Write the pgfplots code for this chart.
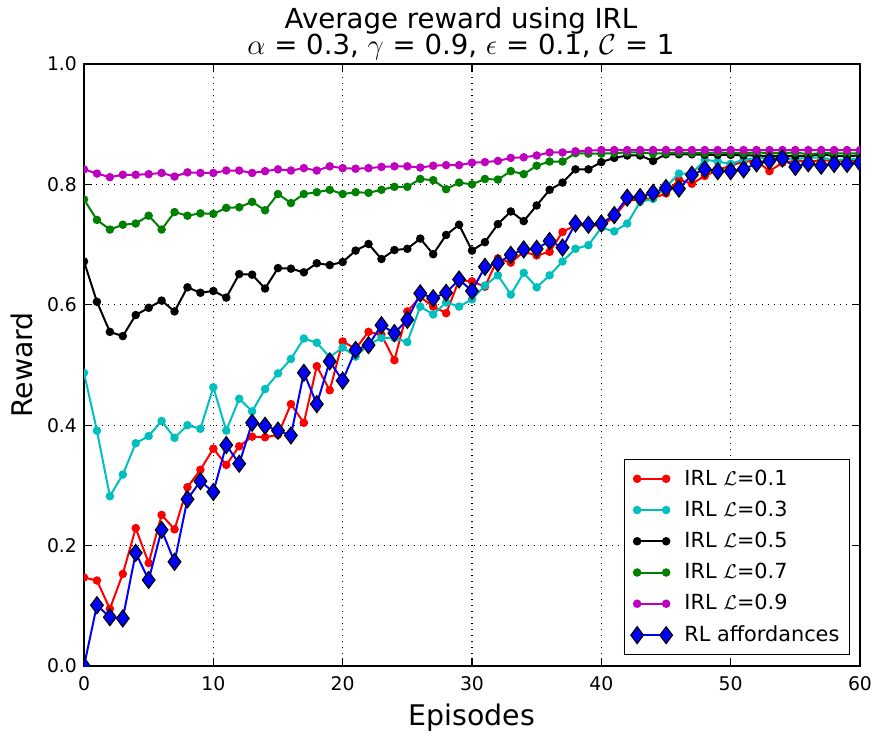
\documentclass[border=0pt]{standalone}
\usepackage{pgfplots}
\usepackage{pgfplotstable}
\pgfplotsset{compat=1.18}
\usepackage{fontspec}
\setmainfont{DejaVu Sans}

\definecolor{mplc}{rgb}{0,0.75,0.75}
\definecolor{mplg}{rgb}{0,0.5,0}
\definecolor{mplm}{rgb}{0.75,0,0.75}

% columns: episode, L=0.1, L=0.3, L=0.5, L=0.7, L=0.9, RL affordances
\pgfplotstableread{
ep  la    lb    lc    ld    le    rl
0   0.147 0.487 0.672 0.775 0.825 0.000
1   0.142 0.391 0.605 0.741 0.818 0.101
2   0.095 0.282 0.555 0.725 0.812 0.081
3   0.153 0.318 0.548 0.733 0.816 0.079
4   0.229 0.370 0.583 0.735 0.816 0.188
5   0.171 0.382 0.595 0.748 0.817 0.143
6   0.251 0.407 0.607 0.725 0.819 0.226
7   0.227 0.379 0.589 0.754 0.813 0.173
8   0.297 0.400 0.629 0.748 0.820 0.277
9   0.326 0.394 0.620 0.752 0.819 0.307
10  0.361 0.463 0.623 0.751 0.819 0.289
11  0.334 0.391 0.612 0.761 0.823 0.367
12  0.365 0.444 0.651 0.762 0.823 0.336
13  0.381 0.423 0.650 0.771 0.819 0.404
14  0.380 0.460 0.627 0.757 0.822 0.399
15  0.384 0.486 0.661 0.784 0.825 0.391
16  0.435 0.510 0.660 0.769 0.823 0.383
17  0.404 0.544 0.654 0.784 0.827 0.487
18  0.498 0.537 0.669 0.787 0.823 0.435
19  0.458 0.513 0.666 0.791 0.830 0.506
20  0.539 0.529 0.671 0.784 0.827 0.474
21  0.527 0.514 0.690 0.787 0.826 0.525
22  0.555 0.534 0.701 0.786 0.827 0.533
23  0.550 0.545 0.676 0.791 0.829 0.566
24  0.508 0.545 0.691 0.796 0.830 0.553
25  0.589 0.538 0.693 0.796 0.830 0.575
26  0.613 0.597 0.710 0.809 0.828 0.619
27  0.597 0.584 0.684 0.807 0.831 0.611
28  0.586 0.604 0.716 0.792 0.832 0.620
29  0.641 0.597 0.733 0.803 0.832 0.642
30  0.639 0.609 0.690 0.800 0.836 0.623
31  0.630 0.632 0.704 0.809 0.837 0.663
32  0.677 0.649 0.734 0.808 0.839 0.669
33  0.670 0.617 0.755 0.822 0.844 0.683
34  0.688 0.653 0.739 0.817 0.845 0.692
35  0.682 0.629 0.765 0.831 0.848 0.693
36  0.688 0.649 0.791 0.838 0.853 0.706
37  0.721 0.672 0.803 0.838 0.853 0.695
38  0.732 0.693 0.825 0.852 0.855 0.735
39  0.732 0.699 0.825 0.851 0.856 0.733
40  0.731 0.728 0.837 0.851 0.857 0.735
41  0.746 0.722 0.844 0.852 0.857 0.749
42  0.773 0.735 0.848 0.853 0.857 0.778
43  0.775 0.771 0.848 0.853 0.857 0.779
44  0.777 0.776 0.839 0.851 0.857 0.786
45  0.785 0.796 0.850 0.852 0.857 0.794
46  0.808 0.818 0.850 0.853 0.857 0.793
47  0.801 0.818 0.850 0.852 0.857 0.816
48  0.814 0.841 0.849 0.852 0.857 0.825
49  0.824 0.838 0.849 0.853 0.857 0.822
50  0.831 0.834 0.849 0.852 0.857 0.822
51  0.838 0.841 0.848 0.852 0.857 0.825
52  0.839 0.844 0.848 0.853 0.857 0.835
53  0.822 0.844 0.847 0.852 0.857 0.839
54  0.836 0.844 0.848 0.852 0.857 0.843
55  0.839 0.842 0.847 0.853 0.857 0.829
56  0.838 0.844 0.847 0.850 0.857 0.835
57  0.840 0.845 0.850 0.852 0.857 0.831
58  0.839 0.840 0.847 0.852 0.857 0.834
59  0.839 0.842 0.847 0.851 0.857 0.834
60  0.840 0.843 0.848 0.852 0.857 0.836
}\rewards

\begin{document}
\begin{tikzpicture}
\begin{axis}[
    name=ax,
    scale only axis,
    width=388pt, height=301pt,
    xmin=0, xmax=60, ymin=0, ymax=1,
    clip marker paths=true,
    xtick={0,10,...,60},
    ytick={0,0.2,...,1.0},
    yticklabel style={/pgf/number format/.cd, fixed, fixed zerofill, precision=1},
    /pgf/number format/assume math mode=true,
    ticklabel style={font=\fontsize{9.4}{11}\selectfont},
    xticklabel style={inner xsep=0pt, yshift=-1.5pt},
    axis line style={line width=0.8pt},
    major tick style={black, line width=0.6pt},
    major tick length=4pt,
    grid=major,
    grid style={black, line width=0.6pt, dash pattern=on 0.6pt off 2.4pt},
    xlabel={Episodes},
    ylabel={Reward},
    label style={font=\fontsize{14.2}{16}\selectfont},
    title={Average reward using IRL\\$\alpha$ = 0.3, $\gamma$ = 0.9, $\epsilon$ = 0.1, $\mathcal{C}$ = 1},
    title style={align=center, font=\fontsize{13.8}{13.2}\selectfont, inner sep=0.5pt,
        yshift=-5pt, xshift=-5.5pt},
    every axis plot/.append style={line width=1pt},
    legend image code/.code={\draw[#1] plot coordinates {(0pt,0pt) (14.5pt,0pt)};},
    legend style={at={(0.987,0.018)}, anchor=south east, draw=black, line width=0.6pt,
        font=\fontsize{10.4}{12}\selectfont, row sep=2.4pt, column sep=4pt,
        inner xsep=3pt, inner ysep=3pt, nodes={inner sep=2pt}},
    legend cell align=left,
]
\addplot[red, mark=*, mark size=1.6pt, mark options={solid, draw=red, fill=red}] table[x=ep, y=la] {\rewards};
\addlegendentry{IRL $\mathcal{L}$=0.1}
\addplot[mplc, mark=*, mark size=1.6pt, mark options={draw=mplc, fill=mplc}] table[x=ep, y=lb] {\rewards};
\addlegendentry{IRL $\mathcal{L}$=0.3}
\addplot[black, mark=*, mark size=1.6pt] table[x=ep, y=lc] {\rewards};
\addlegendentry{IRL $\mathcal{L}$=0.5}
\addplot[mplg, mark=*, mark size=1.6pt, mark options={draw=mplg, fill=mplg}] table[x=ep, y=ld] {\rewards};
\addlegendentry{IRL $\mathcal{L}$=0.7}
\addplot[mplm, mark=*, mark size=1.6pt, mark options={draw=mplm, fill=mplm}] table[x=ep, y=le] {\rewards};
\addlegendentry{IRL $\mathcal{L}$=0.9}
\addplot[blue, mark=diamond*, mark size=4.2pt, mark options={draw=black, fill=blue, line width=0.6pt}] table[x=ep, y=rl] {\rewards};
\addlegendentry{RL affordances}
\end{axis}
\path ([xshift=-42pt, yshift=-32.5pt]ax.south west) rectangle ([xshift=7.5pt, yshift=32pt]ax.north east);
\end{tikzpicture}
\end{document}
